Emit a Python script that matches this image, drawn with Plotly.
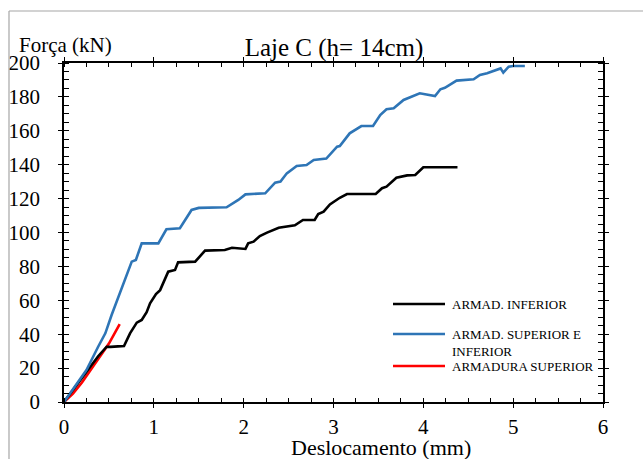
import plotly.graph_objects as go

# ---- data ----
inf_x = [0, 0.1, 0.2, 0.28, 0.38, 0.475, 0.52, 0.6, 0.668, 0.735, 0.81, 0.865, 0.92, 0.958, 1.024, 1.07,
         1.16, 1.236, 1.27, 1.46, 1.57, 1.79, 1.87, 2.02, 2.05, 2.11, 2.18, 2.26, 2.39, 2.57, 2.66, 2.79,
         2.83, 2.89, 2.96, 3.07, 3.15, 3.47, 3.54, 3.59, 3.70, 3.82, 3.91, 4.0, 4.38]
inf_y = [0, 7, 14, 20, 27, 32.6, 32.5, 32.8, 33, 40.5, 46.8, 48.4, 53, 58.2, 63.7, 66,
         76.9, 77.9, 82.4, 82.8, 89.3, 89.7, 91, 90.3, 93.6, 94.6, 97.9, 99.9, 102.8, 104.2, 107.4, 107.4,
         110.9, 112.3, 116.6, 120.5, 122.7, 122.7, 126.1, 127, 132.3, 133.7, 133.9, 138.5, 138.5]

supinf_x = [0, 0.1, 0.25, 0.38, 0.46, 0.53, 0.605, 0.68, 0.754, 0.80, 0.865, 1.05, 1.14, 1.29, 1.42, 1.50,
            1.81, 1.94, 2.02, 2.24, 2.35, 2.41, 2.48, 2.59, 2.70, 2.78, 2.92, 3.04, 3.07, 3.18, 3.31, 3.44,
            3.52, 3.59, 3.67, 3.78, 3.96, 4.13, 4.19, 4.24, 4.37, 4.56, 4.63, 4.71, 4.86, 4.89, 4.95, 5.0, 5.13]
supinf_y = [0, 7.5, 18.9, 32.6, 40.5, 51.3, 62.1, 72, 82.8, 83.8, 93.6, 93.6, 101.9, 102.5, 113.3, 114.5,
            114.9, 119.2, 122.5, 123.1, 129.4, 130, 134.9, 139.2, 139.8, 142.8, 143.6, 150.6, 151, 158.5, 162.8, 162.8,
            169.3, 172.7, 173.3, 178.2, 182.1, 180.5, 184.5, 185.4, 189.6, 190.4, 192.9, 193.9, 196.8, 194.3, 197.8, 198.2, 198.2]

sup_x = [0, 0.1, 0.2, 0.3, 0.4, 0.5, 0.62]
sup_y = [0, 5, 11.5, 19, 26.5, 34.5, 46]

names = ["ARMAD. INFERIOR", "ARMAD. SUPERIOR E<br>INFERIOR", "ARMADURA SUPERIOR"]
colors = ["#000000", "#2E75B6", "#FF0000"]

x_ticks = [0, 1, 2, 3, 4, 5, 6]
y_ticks = [0, 20, 40, 60, 80, 100, 120, 140, 160, 180, 200]

FONT = "Liberation Serif"

fig = go.Figure()
for xs, ys, c, n in [(sup_x, sup_y, colors[2], names[2]),
                     (inf_x, inf_y, colors[0], names[0]),
                     (supinf_x, supinf_y, colors[1], names[1])]:
    fig.add_trace(go.Scatter(x=xs, y=ys, mode="lines", name=n,
                             line=dict(color=c, width=2.6), showlegend=False))

# dummy trace on overlay axes (used to draw the inner half of the crossing major ticks)
fig.add_trace(go.Scatter(x=[None], y=[None], xaxis="x2", yaxis="y2", showlegend=False))

L, R, T, B = 64, 40, 63, 57
W, H = 643, 459
pw, ph = W - L - R, H - T - B

def px(xp):
    return (xp - L) / pw

def py(yp):
    return (H - B - yp) / ph

axis_common = dict(showgrid=False, zeroline=False, showline=True, linecolor="black", linewidth=1.5,
                   tickcolor="black", tickwidth=1.3, automargin=False)

fig.update_layout(
    width=W, height=H,
    margin=dict(l=L, r=R, t=T, b=B, autoexpand=False),
    paper_bgcolor="white", plot_bgcolor="white",
    font=dict(family=FONT, color="black"),
    title=dict(text="Laje C (h= 14cm)", x=(334) / W, xanchor="center",
               y=1 - 47 / H, yanchor="middle", font=dict(size=25, family=FONT, color="black")),
    xaxis=dict(range=[0, 6], tickvals=x_ticks, ticks="outside", ticklen=4, mirror="ticks",
               tickfont=dict(size=21, family=FONT), ticklabelstandoff=1,
               minor=dict(dtick=0.25, ticks="inside", ticklen=4, tickcolor="black", tickwidth=1.2),
               **axis_common),
    yaxis=dict(range=[0, 200], tickvals=y_ticks, ticks="outside", ticklen=4, mirror="ticks",
               tickfont=dict(size=21, family=FONT), ticklabelstandoff=14,
               minor=dict(dtick=5, ticks="inside", ticklen=5, tickcolor="black", tickwidth=1.2),
               **axis_common),
    xaxis2=dict(overlaying="x", range=[0, 6], tickvals=x_ticks, ticks="inside", ticklen=4, mirror="ticks",
                showticklabels=False, side="bottom", **axis_common),
    yaxis2=dict(overlaying="y", range=[0, 200], tickvals=y_ticks, ticks="inside", ticklen=4, mirror="ticks",
                showticklabels=False, side="left", **axis_common),
)

shapes = []
annotations = []
# figure border (top and left)
shapes.append(dict(type="line", xref="paper", yref="paper", x0=px(9), x1=px(643), y0=py(11), y1=py(11),
                   line=dict(color="#A6A6A6", width=1.2)))
shapes.append(dict(type="line", xref="paper", yref="paper", x0=px(9), x1=px(9), y0=py(11), y1=py(459),
                   line=dict(color="#A6A6A6", width=1.2)))

# manual legend
leg_rows = [(names[0], colors[0], 304), (names[1], colors[1], 334), (names[2], colors[2], 366)]
for n, c, yp in leg_rows:
    shapes.append(dict(type="line", xref="paper", yref="paper", x0=px(393), x1=px(445), y0=py(yp), y1=py(yp),
                       line=dict(color=c, width=2.6)))
    annotations.append(dict(text=n, xref="paper", yref="paper", x=px(450), y=py(yp - 9),
                            xanchor="left", yanchor="top", showarrow=False, align="left",
                            font=dict(size=13, family=FONT, color="black")))

annotations.append(dict(text="Força (kN)", xref="paper", yref="paper", x=px(17), y=py(45),
                        xanchor="left", yanchor="middle", showarrow=False,
                        font=dict(size=21, family=FONT, color="black")))
annotations.append(dict(text="Deslocamento (mm)", xref="paper", yref="paper", x=px(381), y=py(448),
                        xanchor="center", yanchor="middle", showarrow=False,
                        font=dict(size=22, family=FONT, color="black")))

fig.update_layout(shapes=shapes, annotations=annotations)
fig.write_html("out.html")
